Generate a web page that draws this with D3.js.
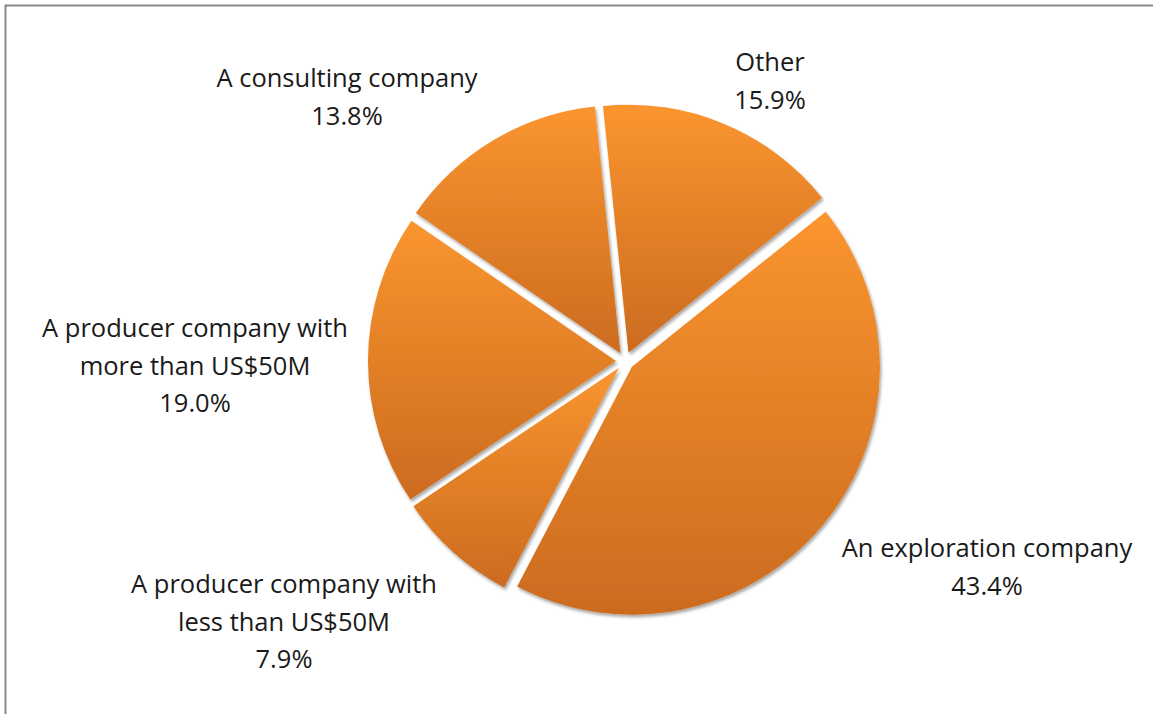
<!DOCTYPE html>
<html>
<head>
<meta charset="utf-8">
<script src="https://cdn.jsdelivr.net/npm/d3@7"></script>
<style>
  html, body { margin: 0; padding: 0; background: #fff; }
  svg { display: block; }
  text { font-family: "Open Sans", "Noto Sans", sans-serif; fill: #1a1a1a; }
</style>
</head>
<body>
<svg id="chart" width="1153" height="714"></svg>
<script>
// ---- data ----
const categories = [
  "Other",
  "An exploration company",
  "A producer company with less than US$50M",
  "A producer company with more than US$50M",
  "A consulting company"
];
const values = [15.9, 43.4, 7.9, 19.0, 13.8];
const labelLines = [
  ["Other"],
  ["An exploration company"],
  ["A producer company with", "less than US$50M"],
  ["A producer company with", "more than US$50M"],
  ["A consulting company"]
];

// ---- layout ----
const W = 1153, H = 714;
const cx = 625, cy = 361;
const radius = 248;
const explode = 9;
const startDeg = -5.9;
const fontSize = 25.5;
const lineH = 37.5;
// label block centres (x, y of first line)
const labelAnchors = [
  [770, 61],
  [987, 547],
  [284, 583],
  [195, 327],
  [347, 77]
];

const svg = d3.select("#chart");

// frame
svg.append("rect")
  .attr("x", 5.5).attr("y", 5.5)
  .attr("width", W + 20).attr("height", H + 20)
  .attr("fill", "#fff")
  .attr("stroke", "#878787").attr("stroke-width", 2);

const defs = svg.append("defs");
const grad = defs.append("linearGradient")
  .attr("id", "sliceGrad")
  .attr("x1", 0).attr("y1", 0).attr("x2", 0).attr("y2", 1);
grad.append("stop").attr("offset", "0%").attr("stop-color", "#FA952F");
grad.append("stop").attr("offset", "100%").attr("stop-color", "#CC6B1F");

const filt = defs.append("filter").attr("id", "shadow")
  .attr("x", "-10%").attr("y", "-10%").attr("width", "120%").attr("height", "120%");
filt.append("feDropShadow")
  .attr("dx", 1.5).attr("dy", 2.5).attr("stdDeviation", 1.6)
  .attr("flood-color", "#000").attr("flood-opacity", 0.35);

const toRad = d => d * Math.PI / 180;
const pie = d3.pie().sort(null).value(d => d)
  .startAngle(toRad(startDeg)).endAngle(toRad(startDeg + 360));
const arcs = pie(values);
const arc = d3.arc().innerRadius(0).outerRadius(radius);

const g = svg.append("g").attr("transform", `translate(${cx},${cy})`);
g.selectAll("path.slice")
  .data(arcs)
  .join("path")
  .attr("class", "slice")
  .attr("d", arc)
  .attr("fill", "url(#sliceGrad)")
  .attr("filter", "url(#shadow)")
  .attr("transform", d => {
    const a = (d.startAngle + d.endAngle) / 2;
    return `translate(${explode * Math.sin(a)},${-explode * Math.cos(a)})`;
  });

// labels
const fmt = d3.format(".1f");
arcs.forEach((d, i) => {
  const lines = labelLines[i].concat([fmt(values[i]) + "%"]);
  const [lx, ly] = labelAnchors[i];
  const t = svg.append("text")
    .attr("text-anchor", "middle")
    .attr("font-size", fontSize);
  lines.forEach((ln, j) => {
    t.append("tspan")
      .attr("x", lx)
      .attr("y", ly + j * lineH)
      .attr("dominant-baseline", "central")
      .text(ln);
  });
});
</script>
</body>
</html>
